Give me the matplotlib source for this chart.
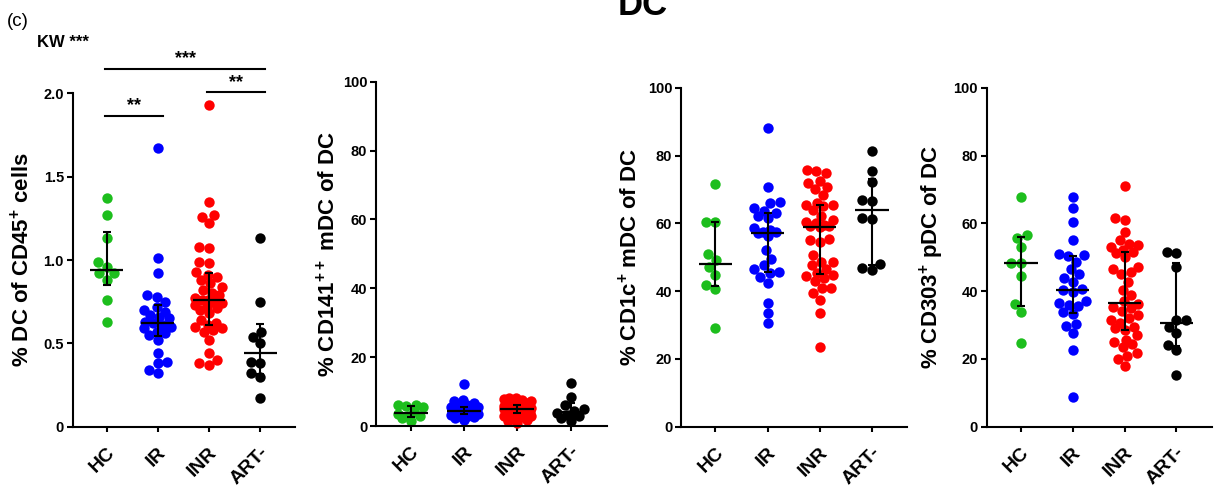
import numpy as np
import matplotlib
matplotlib.use("Agg")
import matplotlib.pyplot as plt
from matplotlib.transforms import ScaledTranslation

plt.rcParams["font.family"] = ["Liberation Sans", "DejaVu Sans"]
plt.rcParams["font.weight"] = "bold"
plt.rcParams["axes.labelweight"] = "bold"
plt.rcParams["mathtext.fontset"] = "custom"
plt.rcParams["mathtext.rm"] = "Liberation Sans:bold"
plt.rcParams["mathtext.bf"] = "Liberation Sans:bold"
plt.rcParams["mathtext.default"] = "bf"

GROUPS = ["HC", "IR", "INR", "ART-"]
COLORS = ["#1DBE1D", "#0000FF", "#FF0000", "#000000"]

# --- % DC of CD45+ cells ---
DC_HC = [1.37, 1.27, 1.13, 0.99, 0.96, 0.92, 0.92, 0.88, 0.76, 0.63]
DC_IR = [1.67, 1.01, 0.92, 0.79, 0.78, 0.75, 0.72, 0.70, 0.69, 0.67, 0.66, 0.65, 0.63,
         0.62, 0.61, 0.60, 0.59, 0.57, 0.56, 0.55, 0.52, 0.44, 0.39, 0.38, 0.34, 0.32]
DC_INR = [1.93, 1.35, 1.27, 1.26, 1.22, 1.08, 1.07, 0.99, 0.98, 0.93, 0.91, 0.90, 0.88,
          0.86, 0.84, 0.82, 0.80, 0.79, 0.77, 0.76, 0.76, 0.75, 0.74, 0.73, 0.72, 0.71,
          0.70, 0.68, 0.64, 0.62, 0.61, 0.60, 0.59, 0.58, 0.57, 0.52, 0.44, 0.40, 0.38, 0.37]
DC_ART = [1.13, 0.75, 0.57, 0.54, 0.50, 0.39, 0.38, 0.32, 0.30, 0.17]

# --- % CD141++ mDC of DC ---
CD141_HC = [6.2, 6.0, 5.8, 5.5, 4.2, 3.6, 3.0, 2.8, 2.2, 1.5]
CD141_IR = [12.2, 7.5, 7.2, 6.8, 6.2, 5.8, 5.6, 5.5, 5.3, 5.1, 4.9, 4.7, 4.6,
            4.4, 4.2, 4.0, 3.8, 3.6, 3.5, 3.4, 3.2, 3.0, 2.8, 2.5, 2.2, 1.8]
CD141_INR = [8.2, 8.0, 7.8, 7.5, 7.2, 7.0, 6.8, 6.6, 6.4, 6.2, 6.1, 6.0, 5.9, 5.8,
             5.7, 5.6, 5.4, 5.3, 5.2, 5.1, 5.0, 4.9, 4.8, 4.6, 4.5, 4.4, 4.2, 4.0,
             3.9, 3.8, 3.6, 3.4, 3.2, 3.0, 2.8, 2.5, 2.2, 1.8, 1.4, 1.0]
CD141_ART = [12.6, 8.3, 6.0, 5.0, 4.5, 3.8, 3.2, 2.8, 2.2, 1.5]

# --- % CD1c+ mDC of DC ---
CD1C_HC = [71.6, 60.5, 60.3, 50.9, 49.2, 47.0, 44.7, 41.7, 40.7, 29.2]
CD1C_IR = [88.0, 70.8, 66.4, 65.9, 64.5, 63.5, 63.0, 62.3, 61.5, 58.5, 58.0, 57.5, 57.5,
           57.0, 56.3, 52.0, 49.6, 47.7, 46.5, 45.6, 45.4, 44.3, 42.3, 36.6, 33.4, 30.5]
CD1C_INR = [75.7, 75.5, 74.7, 72.5, 72.0, 70.8, 70.0, 68.3, 66.0, 65.5, 65.3, 65.0, 64.0,
            62.2, 61.0, 60.5, 60.0, 59.6, 59.3, 59.1, 58.8, 55.5, 55.0, 54.5, 50.6, 48.7,
            48.5, 47.7, 46.5, 45.2, 44.8, 44.5, 44.0, 43.0, 41.0, 40.9, 39.5, 37.4, 33.5, 23.4]
CD1C_ART = [81.4, 75.5, 72.3, 66.9, 66.5, 61.5, 61.2, 48.0, 46.7, 46.2]

# --- % CD303+ pDC of DC ---
CD303_HC = [67.7, 56.5, 55.6, 52.9, 48.4, 48.2, 44.4, 36.1, 33.9, 24.6]
CD303_IR = [67.8, 64.6, 60.3, 55.1, 50.9, 50.6, 50.3, 48.7, 46.4, 45.0, 44.0, 42.8, 40.5,
            40.2, 39.8, 37.0, 36.5, 35.9, 35.6, 33.8, 33.2, 30.3, 29.6, 27.5, 22.6, 8.9]
CD303_INR = [71.0, 61.5, 61.0, 57.3, 55.0, 54.0, 53.5, 53.0, 52.0, 51.5, 51.2, 50.0, 47.2,
             46.4, 45.6, 45.0, 42.8, 40.3, 38.9, 37.0, 36.2, 35.4, 35.0, 34.0, 33.0, 32.0,
             31.5, 30.5, 29.5, 29.0, 28.5, 27.0, 25.5, 25.0, 24.5, 23.6, 21.6, 21.0, 20.0, 17.9]
CD303_ART = [51.6, 51.1, 47.2, 31.5, 31.5, 29.5, 27.5, 24.1, 22.6, 15.3]

YLABELS = ["% DC of CD45$^{+}$ cells", "% CD141$^{++}$ mDC of DC",
           "% CD1c$^{+}$ mDC of DC", "% CD303$^{+}$ pDC of DC"]
YMAX = [2.0, 100, 100, 100]
YTICKS = [[0, 0.5, 1.0, 1.5, 2.0], [0, 20, 40, 60, 80, 100],
          [0, 20, 40, 60, 80, 100], [0, 20, 40, 60, 80, 100]]
YTICKLABELS = [["0", "0.5", "1.0", "1.5", "2.0"], None, None, None]

# significance brackets on the first panel
SIG_PAIRS = [(0, 1), (2, 3), (0, 3)]
SIG_Y = [1.866, 2.006, 2.146]
SIG_TXT = ["**", "**", "***"]

PANEL_DATA = [
    [DC_HC, DC_IR, DC_INR, DC_ART],
    [CD141_HC, CD141_IR, CD141_INR, CD141_ART],
    [CD1C_HC, CD1C_IR, CD1C_INR, CD1C_ART],
    [CD303_HC, CD303_IR, CD303_INR, CD303_ART],
]

W, H = 1222, 491
# axes boxes in pixels: left, top, right, bottom
BOXES = [(72.7, 93.3, 295.0, 426.7), (376.0, 81.7, 606.7, 426.0),
         (681.0, 87.7, 907.3, 426.7), (986.7, 87.7, 1211.7, 426.7)]
YLAB_X = [-0.228, -0.205, -0.225, -0.245]
XLIM = (-0.66, 3.68)


def beeswarm(values, ppu_x, ppu_y, diam=9.8, max_half=13.5):
    """Return x offsets (data units) placing dots without overlap, capped in width."""
    vals = np.asarray(values, float)
    ys = vals * ppu_y
    xs = np.zeros(len(vals))
    placed = []

    def mind(c, y):
        return min((np.hypot(c - px, y - py) for px, py in placed), default=np.inf)

    for i in np.argsort(vals):
        y = ys[i]
        cands = [0.0]
        for px, py in placed:
            dy = y - py
            if abs(dy) < diam:
                dx = np.sqrt(diam ** 2 - dy ** 2)
                cands += [px - dx, px + dx]
        cands = sorted(set(cands), key=lambda c: (abs(c), c))
        chosen = None
        for c in cands:
            if abs(c) <= max_half and mind(c, y) >= diam - 1e-6:
                chosen = c
                break
        if chosen is None:
            grid = np.linspace(-max_half, max_half, 27)
            chosen = max(grid, key=lambda c: mind(c, y))
        xs[i] = chosen
        placed.append((chosen, y))
    return xs / ppu_x


fig = plt.figure(figsize=(W / 100, H / 100), dpi=100)

for p, groups in enumerate(PANEL_DATA):
    l, t, r, b = BOXES[p]
    ax = fig.add_axes([l / W, (H - b) / H, (r - l) / W, (b - t) / H])
    ax.set_xlim(*XLIM)
    ax.set_ylim(0, YMAX[p])
    ppu_x = (r - l) / (XLIM[1] - XLIM[0])
    ppu_y = (b - t) / YMAX[p]

    for gi, vals in enumerate(groups):
        offs = beeswarm(vals, ppu_x, ppu_y)
        ax.scatter(gi + offs, vals, s=56, color=COLORS[gi], linewidths=0,
                   zorder=2, clip_on=False)
        med = np.median(vals)
        q1, q3 = np.percentile(vals, [25, 75], method="weibull")
        ax.errorbar(gi, med, yerr=[[med - q1], [q3 - med]], fmt="none", ecolor="k",
                    elinewidth=1.5, capsize=3, capthick=1.5, zorder=3)
        ax.hlines(med, gi - 0.32, gi + 0.32, color="k", lw=1.6, zorder=3)

    for s in ["top", "right"]:
        ax.spines[s].set_visible(False)
    for s in ["left", "bottom"]:
        ax.spines[s].set_linewidth(1.5)

    ax.set_yticks(YTICKS[p])
    if YTICKLABELS[p]:
        ax.set_yticklabels(YTICKLABELS[p])
    ax.tick_params(axis="y", width=1.5, length=4.3, pad=2, labelsize=10.5)
    for lab in ax.get_yticklabels():
        lab.set_fontweight("bold")
    ax.set_xticks(range(len(GROUPS)))
    ax.set_xticklabels(GROUPS, rotation=45, ha="right", va="center",
                       rotation_mode="anchor", fontsize=14, fontweight="bold")
    ax.tick_params(axis="x", width=1.5, length=3.6, pad=13)
    for lab in ax.get_xticklabels():
        lab.set_transform(lab.get_transform() + ScaledTranslation(4 / 72, 0, fig.dpi_scale_trans))

    ax.set_ylabel(YLABELS[p], fontsize=16, fontweight="bold", va="center")
    ax.yaxis.set_label_coords(YLAB_X[p], 0.5)

    if p == 0:
        for (i, j), y, txt in zip(SIG_PAIRS, SIG_Y, SIG_TXT):
            ax.plot([i - 0.03, j + 0.1], [y, y], color="k", lw=1.5, clip_on=False)
            ax.text((i + j + 0.07) / 2, y + 0.01, txt, ha="center", va="bottom",
                    fontsize=13, fontweight="bold", clip_on=False)

fig.text(7 / W, 1 - 26 / H, "(c)", fontsize=13.5, fontweight="normal", va="baseline")
fig.text(37 / W, 1 - 47 / H, "KW ***", fontsize=12, fontweight="bold", va="baseline")
fig.text(643 / W, 1 - 15 / H, "DC", fontsize=25, fontweight="bold", ha="center",
         va="baseline")

fig.savefig("out.png", dpi=100)
